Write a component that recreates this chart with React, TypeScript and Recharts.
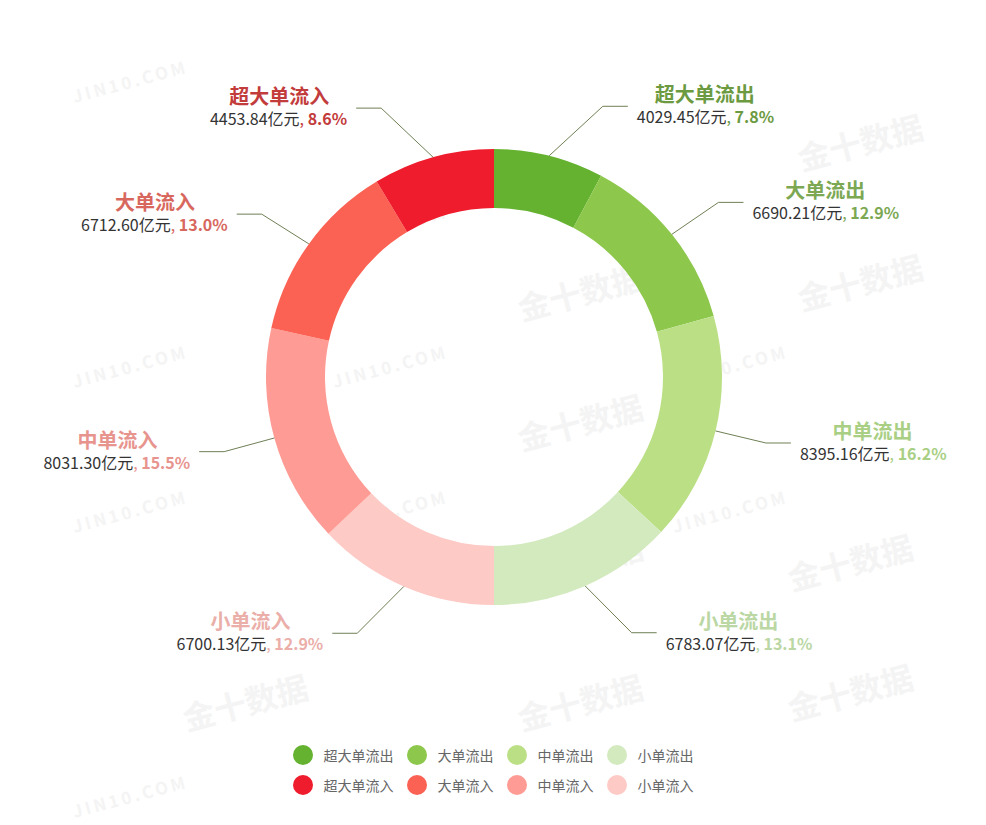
import { PieChart, Pie, Cell, Legend } from "recharts";

const names = ["超大单流出", "大单流出", "中单流出", "小单流出", "小单流入", "中单流入", "大单流入", "超大单流入"];
const amounts = [4029.45, 6690.21, 8395.16, 6783.07, 6700.13, 8031.3, 6712.6, 4453.84];
const sliceColors = ["#64b22f", "#8dc74b", "#bbdf85", "#d3eabf", "#fdcac5", "#fe9b94", "#fb6254", "#ee1c2c"];
const labelColors = ["#6c9a41", "#7ca853", "#a9cf84", "#bad7a4", "#ebaea9", "#e8948e", "#d8685e", "#c33c3c"];
const legendRows = [
  ["超大单流出", "大单流出", "中单流出", "小单流出"],
  ["超大单流入", "大单流入", "中单流入", "小单流入"],
];
const markA = "金十数据";
const markB = "JIN10.COM";
const markAPos: [number, number][] = [
  [860, 140], [580, 290], [860, 280], [580, 420], [580, 560], [850, 560], [245, 700], [580, 700], [850, 690],
];
const markBPos: [number, number][] = [
  [130, 80], [390, 225], [130, 365], [390, 365], [730, 365], [130, 510], [390, 510], [730, 510], [130, 795],
];

const data = names.map((name, i) => ({ name, value: amounts[i] }));

const RADIAN = Math.PI / 180;
const FONT = "'Noto Sans CJK SC', 'Noto Sans', sans-serif";

// rough advance widths, only used to centre the name over the value line
const textWidth = (s: string, size: number, bold = false) => {
  let w = 0;
  for (const ch of s) {
    if (/[\u4e00-\u9fff]/.test(ch)) w += size;
    else if (/[0-9]/.test(ch)) w += size * (bold ? 0.6 : 0.56);
    else if (ch === "." || ch === ",") w += size * 0.27;
    else if (ch === "%") w += size * 0.86;
    else w += size * 0.26;
  }
  return w;
};

const renderLabel = (props: any) => {
  const { cx, cy, midAngle, outerRadius, index, value, percent } = props;
  const cos = Math.cos(-midAngle * RADIAN);
  const sin = Math.sin(-midAngle * RADIAN);
  const sx = cx + outerRadius * cos;
  const sy = cy + outerRadius * sin;
  // elbow points sit on an ellipse, like echarts' pie label layout
  const rA = outerRadius + 51;
  const rB = outerRadius + 66;
  const dy = rA * sin;
  const dir = cos >= 0 ? 1 : -1;
  const mx = cx + dir * rA * Math.sqrt(Math.max(0, 1 - (dy * dy) / (rB * rB)));
  const my = cy + dy;
  const ex = mx + dir * 25;
  const tx = ex + dir * 9;
  const amt = `${value.toFixed(2)}亿元`;
  const pct = `${(percent * 100).toFixed(1)}%`;
  const vw = textWidth(amt, 16) + textWidth(", ", 16) + textWidth(pct, 16, true);
  const nameX = tx + (dir * vw) / 2;
  const color = labelColors[index];
  return (
    <g key={`lbl-${index}`} fontFamily={FONT}>
      <path d={`M${sx},${sy}L${mx},${my}L${ex},${my}`} stroke="#6f7f55" strokeWidth={1} fill="none" />
      <text x={nameX} y={my - 4} textAnchor="middle" fontSize={20} fontWeight="bold" fill={color}>
        {names[index]}
      </text>
      <text x={tx} y={my + 17} textAnchor={dir > 0 ? "start" : "end"} fontSize={16}>
        <tspan fill="#333">{amt}</tspan>
        <tspan fill={color}>, </tspan>
        <tspan fill={color} fontWeight="bold">{pct}</tspan>
      </text>
    </g>
  );
};

const renderLegend = (props: any) => {
  const payload: any[] = props.payload || [];
  const byName: Record<string, string> = {};
  payload.forEach((p) => (byName[p.value] = p.color));
  return (
    <div style={{ fontFamily: FONT }}>
      {legendRows.map((row, r) => (
        <div key={r} style={{ display: "flex", justifyContent: "center", alignItems: "center", gap: 13, height: 30 }}>
          {row.map((n) => (
            <div key={n} style={{ display: "flex", alignItems: "center" }}>
              <span style={{ width: 20, height: 20, borderRadius: "50%", background: byName[n], marginRight: 11 }} />
              <span style={{ fontSize: 14, color: "#666" }}>{n}</span>
            </div>
          ))}
        </div>
      ))}
    </div>
  );
};

function Watermarks() {
  const base = {
    position: "absolute" as const,
    width: 140,
    textAlign: "center" as const,
    fontWeight: "bold" as const,
    color: "#f4f4f4",
    transform: "rotate(-15deg)",
    whiteSpace: "nowrap" as const,
  };
  return (
    <div style={{ position: "absolute", left: 0, top: 0, width: 986, height: 825, overflow: "hidden", fontFamily: FONT }}>
      {markAPos.map(([x, y], i) => (
        <span key={`a${i}`} style={{ ...base, left: x - 70, top: y - 22, fontSize: 32 }}>
          {markA}
        </span>
      ))}
      {markBPos.map(([x, y], i) => (
        <span key={`b${i}`} style={{ ...base, left: x - 70, top: y - 12, fontSize: 17, letterSpacing: 3 }}>
          {markB}
        </span>
      ))}
    </div>
  );
}

export default function App() {
  return (
    <div style={{ position: "relative", width: 986, height: 825, margin: "-8px 0 0 -8px", background: "#fff" }}>
      <Watermarks />
      <div style={{ position: "absolute", left: 0, top: 0 }}>
        <PieChart width={986} height={825} margin={{ top: 0, right: 0, bottom: 0, left: 0 }}>
          <Pie
            data={data}
            dataKey="value"
            nameKey="name"
            cx={494}
            cy={377}
            innerRadius={169}
            outerRadius={228}
            startAngle={90}
            endAngle={-270}
            stroke="none"
            label={renderLabel}
            labelLine={false}
            isAnimationActive={false}
          >
            {data.map((d, i) => (
              <Cell key={d.name} fill={sliceColors[i]} />
            ))}
          </Pie>
          <Legend
            verticalAlign="bottom"
            content={renderLegend}
            wrapperStyle={{ left: 0, bottom: 25, width: 986 }}
          />
        </PieChart>
      </div>
    </div>
  );
}
